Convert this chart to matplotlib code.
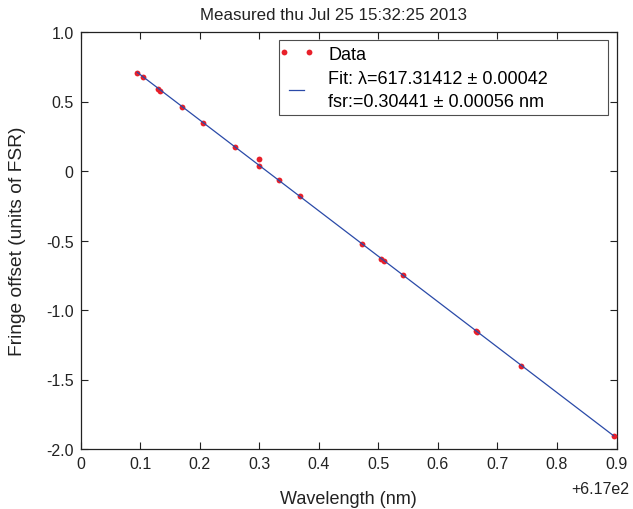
import numpy as np
import matplotlib
matplotlib.use("Agg")
import matplotlib.pyplot as plt
from matplotlib.ticker import FuncFormatter
from matplotlib.legend_handler import HandlerLine2D

plt.rcParams['font.family'] = ['Liberation Sans', 'DejaVu Sans']

# datos
offset = 617.0
longitud = np.array([617.0954, 617.1054, 617.1306, 617.1335, 617.1700, 617.2060,
                     617.2594, 617.3000, 617.2990, 617.3330, 617.3685, 617.4726,
                     617.5054, 617.5096, 617.5420, 617.6640, 617.6666, 617.7396,
                     617.8952])
franja = np.array([0.705, 0.674, 0.590, 0.578, 0.463, 0.345,
                   0.170, 0.086, 0.038, -0.067, -0.182, -0.525,
                   -0.633, -0.647, -0.750, -1.153, -1.158, -1.401,
                   -1.904])

titulo = "Measured thu Jul 25 15:32:25 2013"
# espacios al final para dejar el hueco a la derecha de la leyenda (como en MATLAB)
etiqueta_fit = "Fit: \u03bb=617.31412 \u00b1 0.00042" + " " * 11 + \
    "\nfsr:=0.30441 \u00b1 0.00056 nm"

xticks = np.arange(0, 0.91, 0.1)
yticks = [1.0, 0.5, 0, -0.5, -1.0, -1.5, -2.0]
ytick_labels = ["1.0", "0.5", "0", "-0.5", "-1.0", "-1.5", "-2.0"]

# ajuste lineal
p = np.polyfit(longitud, franja, 1)
x_fit = np.array([longitud.min(), longitud.max()])
y_fit = np.polyval(p, x_fit)

fig = plt.figure(figsize=(6.33, 5.10), dpi=100)
ax = fig.add_axes([80.5 / 633, 60 / 510, 536 / 633, 417 / 510])

puntos, = ax.plot(longitud, franja, 'o', color='#e8202a', markersize=4.2,
                  markeredgewidth=0, label="Data", zorder=3)
ax.plot(x_fit, y_fit, '-', color='#2a4aa8', linewidth=0.9, label=etiqueta_fit, zorder=4)

ax.set_xlim(offset, offset + 0.9)
ax.set_ylim(-2.0, 1.0)
ax.set_xticks(offset + xticks)
ax.xaxis.set_major_formatter(FuncFormatter(
    lambda v, pos: "0" if abs(v - offset) < 1e-9 else f"{v - offset:.1f}"))
ax.set_yticks(yticks)
ax.set_yticklabels(ytick_labels)

ax.tick_params(direction='in', top=True, right=True, length=5, width=0.8,
               labelsize=11.5, colors='#222222', pad=5)
for s in ax.spines.values():
    s.set_linewidth(0.9)
    s.set_color('#222222')

ax.set_xlabel("Wavelength (nm)", fontsize=13, color='#222222', va='center')
ax.xaxis.set_label_coords(0.5, (450 - 500) / 417)
ax.set_ylabel("Fringe offset (units of FSR)", fontsize=13.8, color='#222222', va='center')
ax.yaxis.set_label_coords((18 - 80.5) / 536, 0.5)
fig.text(333 / 633, 1 - 15 / 510, titulo, ha='center', va='center', fontsize=12.2,
         color='#222222')
fig.text(629 / 633, 1 - 490 / 510, "+6.17e2", ha='right', va='center', fontsize=11.5,
         color='#222222')

leg = ax.legend(loc='upper right', numpoints=2, fontsize=13, frameon=True,
                fancybox=False, edgecolor='#222222', borderaxespad=0.45,
                handlelength=1.4, handletextpad=1.05, borderpad=0.3,
                labelspacing=0.4,
                handler_map={puntos: HandlerLine2D(marker_pad=0.0, numpoints=2)})
leg.get_frame().set_linewidth(0.8)
for t in leg.get_texts():
    t.set_linespacing(1.45)

fig.savefig("out.png", dpi=100)
